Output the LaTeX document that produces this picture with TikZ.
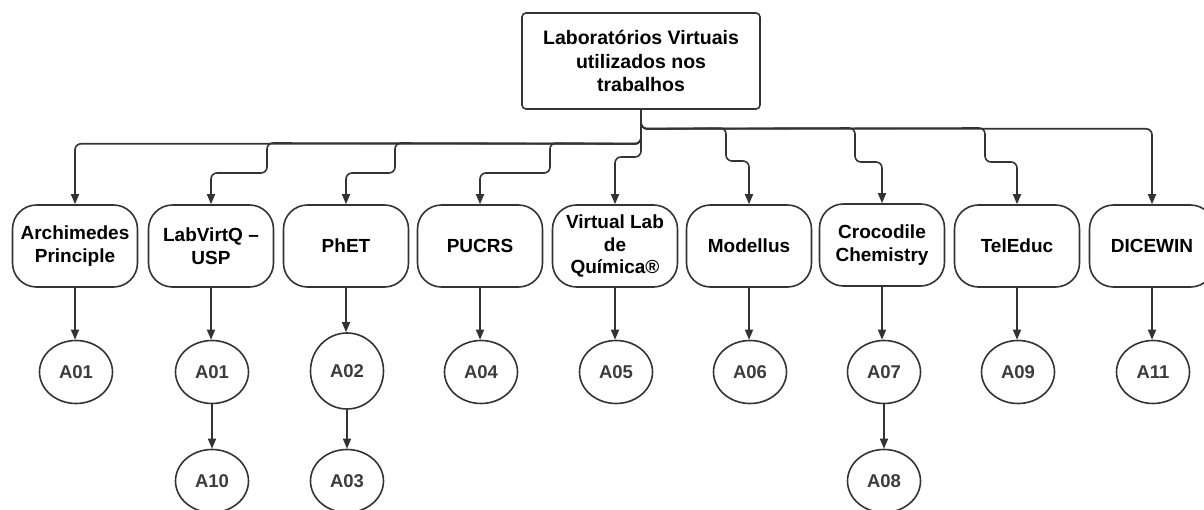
\documentclass[tikz,border=0pt]{standalone}
\usepackage{fontspec}
\setmainfont{Liberation Sans}
\usetikzlibrary{arrows.meta,shapes.geometric}
\definecolor{ln}{HTML}{333333}
\definecolor{ct}{HTML}{3c3c3c}
\begin{document}
\begin{tikzpicture}[x=1pt,y=-1pt,
  topbox/.style={draw=ln, line width=1.6pt, rounded corners=4pt, minimum width=238pt, minimum height=96pt, inner sep=0pt, align=center, font=\bfseries\fontsize{19.5}{23.5}\selectfont},
  lab/.style={draw=ln, line width=1.6pt, rounded corners=24pt, minimum width=125pt, minimum height=82pt, inner sep=0pt, align=center, font=\bfseries\fontsize{19}{22.5}\selectfont},
  art/.style={draw=ln, ellipse, line width=1.6pt, minimum width=73pt, minimum height=63pt, inner sep=0pt, font=\bfseries\fontsize{18.5}{22}\selectfont, text=ct},
  conn/.style={draw=ln, line width=1.6pt, rounded corners=6pt, -{Triangle[length=10pt,width=8pt]}}
]
\useasboundingbox (0,0) rectangle (1204,510);

\node[topbox] (top) at (641,61) {Laboratórios Virtuais\\utilizados nos\\trabalhos};

\node[lab] (n1) at (75,246) {Archimedes\\Principle};
\node[lab] (n2) at (211,246) {LabVirtQ –\\USP};
\node[lab] (n3) at (346,246) {PhET};
\node[lab] (n4) at (480,246) {PUCRS};
\node[lab] (n5) at (615,246) {Virtual Lab\\de\\Química®};
\node[lab] (n6) at (749,246) {Modellus};
\node[lab] (n7) at (882,245) {Crocodile\\Chemistry};
\node[lab] (n8) at (1017,246) {TelEduc};
\node[lab] (n9) at (1152,246) {DICEWIN};

\node[art] (c1) at (76,372) {A01};
\node[art] (c2) at (212,372) {A01};
\node[art] (c10) at (212,481) {A10};
\node[art, minimum height=76pt] (c3) at (347,371) {A02};
\node[art] (c4) at (347,481) {A03};
\node[art] (c5) at (481,372) {A04};
\node[art] (c6) at (616,372) {A05};
\node[art] (c7) at (750,372) {A06};
\node[art] (c8) at (884,372) {A07};
\node[art] (c9) at (884,481) {A08};
\node[art] (c11) at (1018,372) {A09};
\node[art] (c12) at (1153,372) {A11};

% top-level connectors
\draw[conn] (top.south) -- ++(0,34) -| (n1.north);
\draw[conn] (top.south) -- ++(0,34) -- (267,143) -- (267,173) -| (n2.north);
\draw[conn] (top.south) -- ++(0,34) -- (395,143) -- (395,173) -| (n3.north);
\draw[conn] (top.south) -- ++(0,34) -- (550,143) -- (550,173) -| (n4.north);
\draw[conn] (top.south) -- (641,157) -| (n5.north);
\draw[conn] (top.south) -- ++(0,19) -- (726,128) -- (726,161) -| (n6.north);
\draw[conn] (top.south) -- ++(0,19) -- (855,128) -- (855,162) -| (n7.north);
\draw[conn] (top.south) -- ++(0,19) -- (985,128) -- (985,162) -| (n8.north);
\draw[conn] (top.south) -- ++(0,19) -| (n9.north);

% lower connectors
\draw[conn] (n1.south) -- (n1.south |- c1.north);
\draw[conn] (n2.south) -- (n2.south |- c2.north);
\draw[conn] (n3.south) -- (n3.south |- c3.north);
\draw[conn] (n4.south) -- (n4.south |- c5.north);
\draw[conn] (n5.south) -- (n5.south |- c6.north);
\draw[conn] (n6.south) -- (n6.south |- c7.north);
\draw[conn] (n7.south) -- (n7.south |- c8.north);
\draw[conn] (n8.south) -- (n8.south |- c11.north);
\draw[conn] (n9.south) -- (n9.south |- c12.north);
\draw[conn] (c2.south) -- (c10.north);
\draw[conn] (c3.south) -- (c4.north);
\draw[conn] (c8.south) -- (c9.north);
\end{tikzpicture}
\end{document}
